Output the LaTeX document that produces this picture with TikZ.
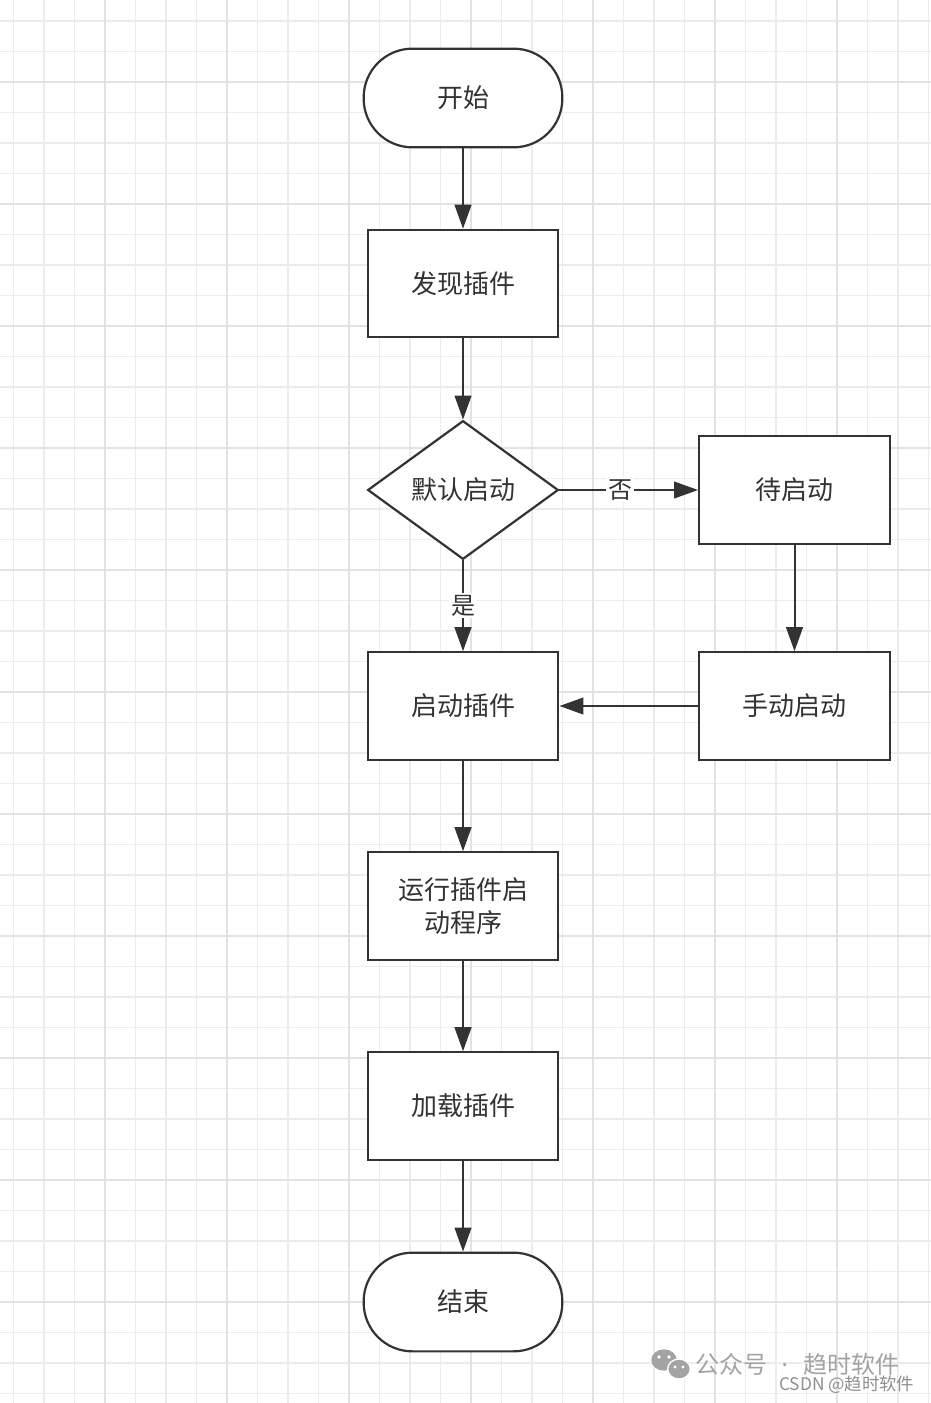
\documentclass[tikz,border=0pt]{standalone}
\usepackage{fontspec}
\setmainfont{Noto Sans CJK SC}
\newfontfamily\dotfont{Noto Sans}
\usetikzlibrary{arrows.meta,shapes.geometric}
\definecolor{ink}{HTML}{333333}
\definecolor{gminor}{HTML}{ECECEC}
\definecolor{gmajor}{HTML}{E2E2E2}
\definecolor{wmark}{HTML}{A3A3A3}
\definecolor{wmark2}{HTML}{8F8F8F}
\begin{document}
\begin{tikzpicture}[x=0.75pt,y=-0.75pt,
  txt/.style={text=ink, font=\fontsize{19.5}{25}\selectfont, align=center},
  box/.style={txt, draw=ink, line width=1.65pt, fill=white, inner sep=0pt,
              minimum width=143pt, minimum height=80.5pt},
  term/.style={box, minimum width=149pt, minimum height=74pt, rounded corners=36.5pt},
  decision/.style={txt, shape=diamond, draw=ink, line width=1.65pt, fill=white, inner sep=0pt,
              minimum width=143pt, minimum height=104pt},
  arr/.style={draw=ink, line width=1.5pt, -{Triangle[length=18pt,width=12.5pt]}},
  lbl/.style={txt, fill=white, inner sep=1.5pt, font=\fontsize{18}{22}\selectfont}]
\useasboundingbox (0,0) rectangle (931,1403);
\fill[white] (0,0) rectangle (931,1403);
% grid
\foreach \i in {0,...,30} {\draw[gminor, line width=0.9pt] ({13.5+30.5*\i},0) -- ({13.5+30.5*\i},1403);}
\foreach \j in {0,...,45} {\draw[gminor, line width=0.9pt] (0,{21+30.5*\j}) -- (931,{21+30.5*\j});}
\foreach \i in {0,...,6} {\draw[gmajor, line width=1.2pt] ({105+122*\i},0) -- ({105+122*\i},1403);}
\foreach \j in {0,...,10} {\draw[gmajor, line width=1.2pt] (0,{82+122*\j}) -- (931,{82+122*\j});}
% nodes
\node[term] (start) at (463,98) {开始};
\node[box] (find) at (463,283.5) {发现插件};
\node[decision] (dec) at (463,490) {默认启动};
\node[box] (wait) at (794.5,490) {待启动};
\node[box] (manual) at (794.5,706) {手动启动};
\node[box] (launch) at (463,706) {启动插件};
\node[box] (run) at (463,906) {运行插件启\\动程序};
\node[box] (load) at (463,1106) {加载插件};
\node[term] (end) at (463,1302) {结束};
% edges
\draw[arr] (start) -- (find);
\draw[arr] (find) -- (dec);
\draw[arr] (dec) -- node[lbl, pos=0.44] {否} (wait);
\draw[arr] (dec) -- node[lbl, pos=0.5] {是} (launch);
\draw[arr] (wait) -- (manual);
\draw[arr] (manual) -- (launch);
\draw[arr] (launch) -- (run);
\draw[arr] (run) -- (load);
\draw[arr] (load) -- (end);
% watermark
\fill[wmark] (664,1360) ellipse [x radius=9.5pt, y radius=8pt];
\fill[wmark, draw=white, line width=1pt] (679,1369) ellipse [x radius=8.5pt, y radius=7.5pt];
\fill[white] (659,1357) circle [radius=1.4pt] (669,1357) circle [radius=1.4pt]
             (675,1367) circle [radius=1.2pt] (683,1367) circle [radius=1.2pt];
\node[anchor=west, inner sep=0pt, text=wmark, font=\fontsize{18}{22}\selectfont] (wm1) at (695,1364) {公众号\hspace{0.6em}{\dotfont ·}\hspace{0.65em}趋时软件};
\node[anchor=west, inner sep=0pt, text=wmark2, font=\fontsize{13}{15}\selectfont] (wm2) at (779,1385) {CSDN @趋时软件};
\end{tikzpicture}
\end{document}
